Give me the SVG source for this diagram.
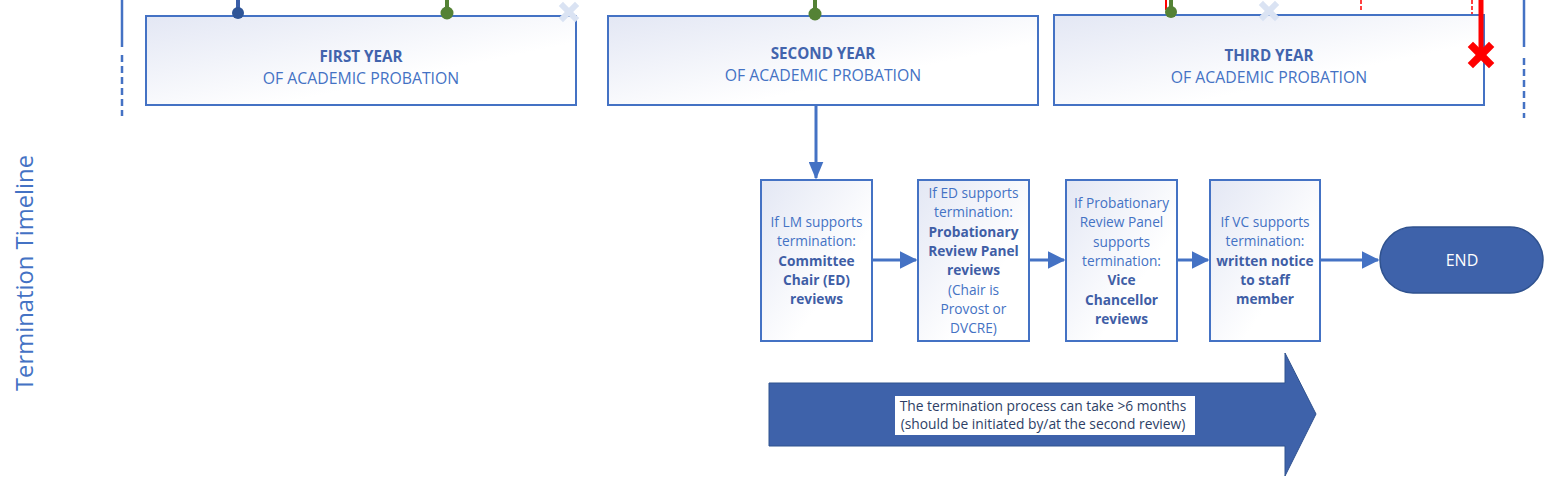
<svg xmlns="http://www.w3.org/2000/svg" width="1551" height="477" viewBox="0 0 1551 477">
<defs>
<linearGradient id="boxg" x1="0" y1="0" x2="1" y2="1">
<stop offset="0" stop-color="#e3e7f4"/>
<stop offset="0.65" stop-color="#ffffff"/>
<stop offset="1" stop-color="#ffffff"/>
</linearGradient>
<marker id="ah" markerWidth="6" markerHeight="6" refX="5.5" refY="3" orient="auto" markerUnits="strokeWidth">
<path d="M0,0 L6,3 L0,6 Z" fill="#4472c4"/>
</marker>
<marker id="ahd" markerWidth="6" markerHeight="5" refX="5.5" refY="2.5" orient="auto" markerUnits="strokeWidth">
<path d="M0,0 L6,2.5 L0,5 Z" fill="#4472c4"/>
</marker>
</defs>
<style>
.box{fill:url(#boxg);stroke:#4472c4;stroke-width:2}
.t{font-family:"Open Sans","Liberation Sans",sans-serif;text-anchor:middle}
.title{font-size:15.2px;font-weight:bold;fill:#4264ad}
.sub{font-size:15.8px;fill:#4472c4}
.bt{font-size:13.7px;fill:#4472c4}
.bb{font-weight:bold;fill:#3f5ea6}
.con{stroke:#4472c4;stroke-width:3;fill:none}
.vl{stroke:#4472c4;stroke-width:2.5;fill:none}
.lx{stroke:#dae3f3;stroke-width:6;stroke-linecap:square}
.rx{stroke:#ff0000;stroke-width:7.5;stroke-linecap:square}
</style>

<g id="timeline-bounds">
<line class="vl" x1="122" y1="0" x2="122" y2="47"/>
<line class="vl" x1="122" y1="55" x2="122" y2="116" stroke-dasharray="7,4"/>
<line class="vl" x1="1524" y1="0" x2="1524" y2="47"/>
<line class="vl" x1="1524" y1="58" x2="1524" y2="118" stroke-dasharray="7,4"/>
</g>

<g id="timeline-label">
<text class="t" transform="translate(33,273) rotate(-90)" font-size="23.8" fill="#4472c4">Termination Timeline</text>
</g>

<g id="first-year">
<rect class="box" x="146" y="16" width="430" height="89"/>
<text class="t title" x="361" y="62">FIRST YEAR</text>
<text class="t sub" x="361" y="84">OF ACADEMIC PROBATION</text>
</g>

<g id="second-year">
<rect class="box" x="608" y="16" width="430" height="89"/>
<text class="t title" x="823" y="59">SECOND YEAR</text>
<text class="t sub" x="823" y="81">OF ACADEMIC PROBATION</text>
</g>

<g id="third-year">
<rect class="box" x="1054" y="15" width="430" height="90"/>
<text class="t title" x="1269" y="61">THIRD YEAR</text>
<text class="t sub" x="1269" y="83">OF ACADEMIC PROBATION</text>
</g>

<g id="markers">
<line x1="238" y1="0" x2="238" y2="12" stroke="#3a5ea8" stroke-width="4"/>
<circle cx="238" cy="13" r="6" fill="#2f5597"/>
<line x1="447" y1="0" x2="447" y2="12" stroke="#548235" stroke-width="4"/>
<circle cx="447" cy="13" r="6.5" fill="#548235"/>
<line x1="815" y1="0" x2="815" y2="12" stroke="#548235" stroke-width="4"/>
<circle cx="815" cy="14" r="6.5" fill="#548235"/>
<line x1="1166" y1="0" x2="1166" y2="10" stroke="#ff0000" stroke-width="2"/>
<line x1="1171" y1="0" x2="1171" y2="10" stroke="#548235" stroke-width="4"/>
<circle cx="1171" cy="12" r="6" fill="#548235"/>
<line class="lx" x1="563" y1="6" x2="575" y2="18"/>
<line class="lx" x1="575" y1="6" x2="563" y2="18"/>
<line class="lx" x1="1263" y1="5" x2="1275" y2="17"/>
<line class="lx" x1="1275" y1="5" x2="1263" y2="17"/>
<line x1="1361" y1="0" x2="1361" y2="12" stroke="#ff0000" stroke-width="1.5" stroke-dasharray="4,2"/>
<line x1="1472" y1="0" x2="1472" y2="14" stroke="#ff0000" stroke-width="1.5" stroke-dasharray="4,2"/>
<line x1="1481" y1="0" x2="1481" y2="55" stroke="#ff0000" stroke-width="5"/>
<line class="rx" x1="1473" y1="47" x2="1489" y2="63"/>
<line class="rx" x1="1489" y1="47" x2="1473" y2="63"/>
</g>

<g id="step-lm">
<rect class="box" x="761" y="180" width="111" height="161"/>
<text class="t bt" x="816.5" y="227">If LM supports<tspan x="816.5" dy="19.3">termination:</tspan><tspan class="bb" x="816.5" dy="19.3">Committee</tspan><tspan class="bb" x="816.5" dy="19.3">Chair (ED)</tspan><tspan class="bb" x="816.5" dy="19.3">reviews</tspan></text>
</g>

<g id="step-ed">
<rect class="box" x="918" y="180" width="111" height="161"/>
<text class="t bt" x="973.5" y="198">If ED supports<tspan x="973.5" dy="19.3">termination:</tspan><tspan class="bb" x="973.5" dy="19.3">Probationary</tspan><tspan class="bb" x="973.5" dy="19.3">Review Panel</tspan><tspan class="bb" x="973.5" dy="19.3">reviews</tspan><tspan x="973.5" dy="19.3">(Chair is</tspan><tspan x="973.5" dy="19.3">Provost or</tspan><tspan x="973.5" dy="19.3">DVCRE)</tspan></text>
</g>

<g id="step-prp">
<rect class="box" x="1066" y="180" width="111" height="161"/>
<text class="t bt" x="1121.5" y="208">If Probationary<tspan x="1121.5" dy="19.3">Review Panel</tspan><tspan x="1121.5" dy="19.3">supports</tspan><tspan x="1121.5" dy="19.3">termination:</tspan><tspan class="bb" x="1121.5" dy="19.3">Vice</tspan><tspan class="bb" x="1121.5" dy="19.3">Chancellor</tspan><tspan class="bb" x="1121.5" dy="19.3">reviews</tspan></text>
</g>

<g id="step-vc">
<rect class="box" x="1210" y="180" width="110" height="161"/>
<text class="t bt" x="1265" y="227">If VC supports<tspan x="1265" dy="19.3">termination:</tspan><tspan class="bb" x="1265" dy="19.3">written notice</tspan><tspan class="bb" x="1265" dy="19.3">to staff</tspan><tspan class="bb" x="1265" dy="19.3">member</tspan></text>
</g>

<g id="end">
<rect x="1380" y="227" width="163" height="66" rx="33" ry="33" fill="#3e62aa" stroke="#2f528f" stroke-width="1.5"/>
<text class="t" x="1462" y="266" font-size="16" fill="#ffffff">END</text>
</g>

<g id="connectors">
<line class="con" x1="816" y1="106" x2="816" y2="178" stroke-width="2.5" marker-end="url(#ahd)"/>
<line class="con" x1="872" y1="260" x2="916" y2="260" marker-end="url(#ah)"/>
<line class="con" x1="1029" y1="260" x2="1064" y2="260" marker-end="url(#ah)"/>
<line class="con" x1="1177" y1="260" x2="1208" y2="260" marker-end="url(#ah)"/>
<line class="con" x1="1320" y1="260" x2="1378" y2="260" marker-end="url(#ah)"/>
</g>

<g id="duration-arrow">
<path d="M769,383 L1285,383 L1285,353 L1316,414 L1285,476 L1285,446 L769,446 Z" fill="#3e62aa" stroke="#2f528f" stroke-width="1"/>
<rect x="895" y="396" width="300" height="39" fill="#ffffff"/>
<text class="t" x="1043" y="411" font-size="13.8" fill="#2e3f66">The termination process can take &gt;6 months<tspan x="1043" dy="18">(should be initiated by/at the second review)</tspan></text>
</g>
</svg>
